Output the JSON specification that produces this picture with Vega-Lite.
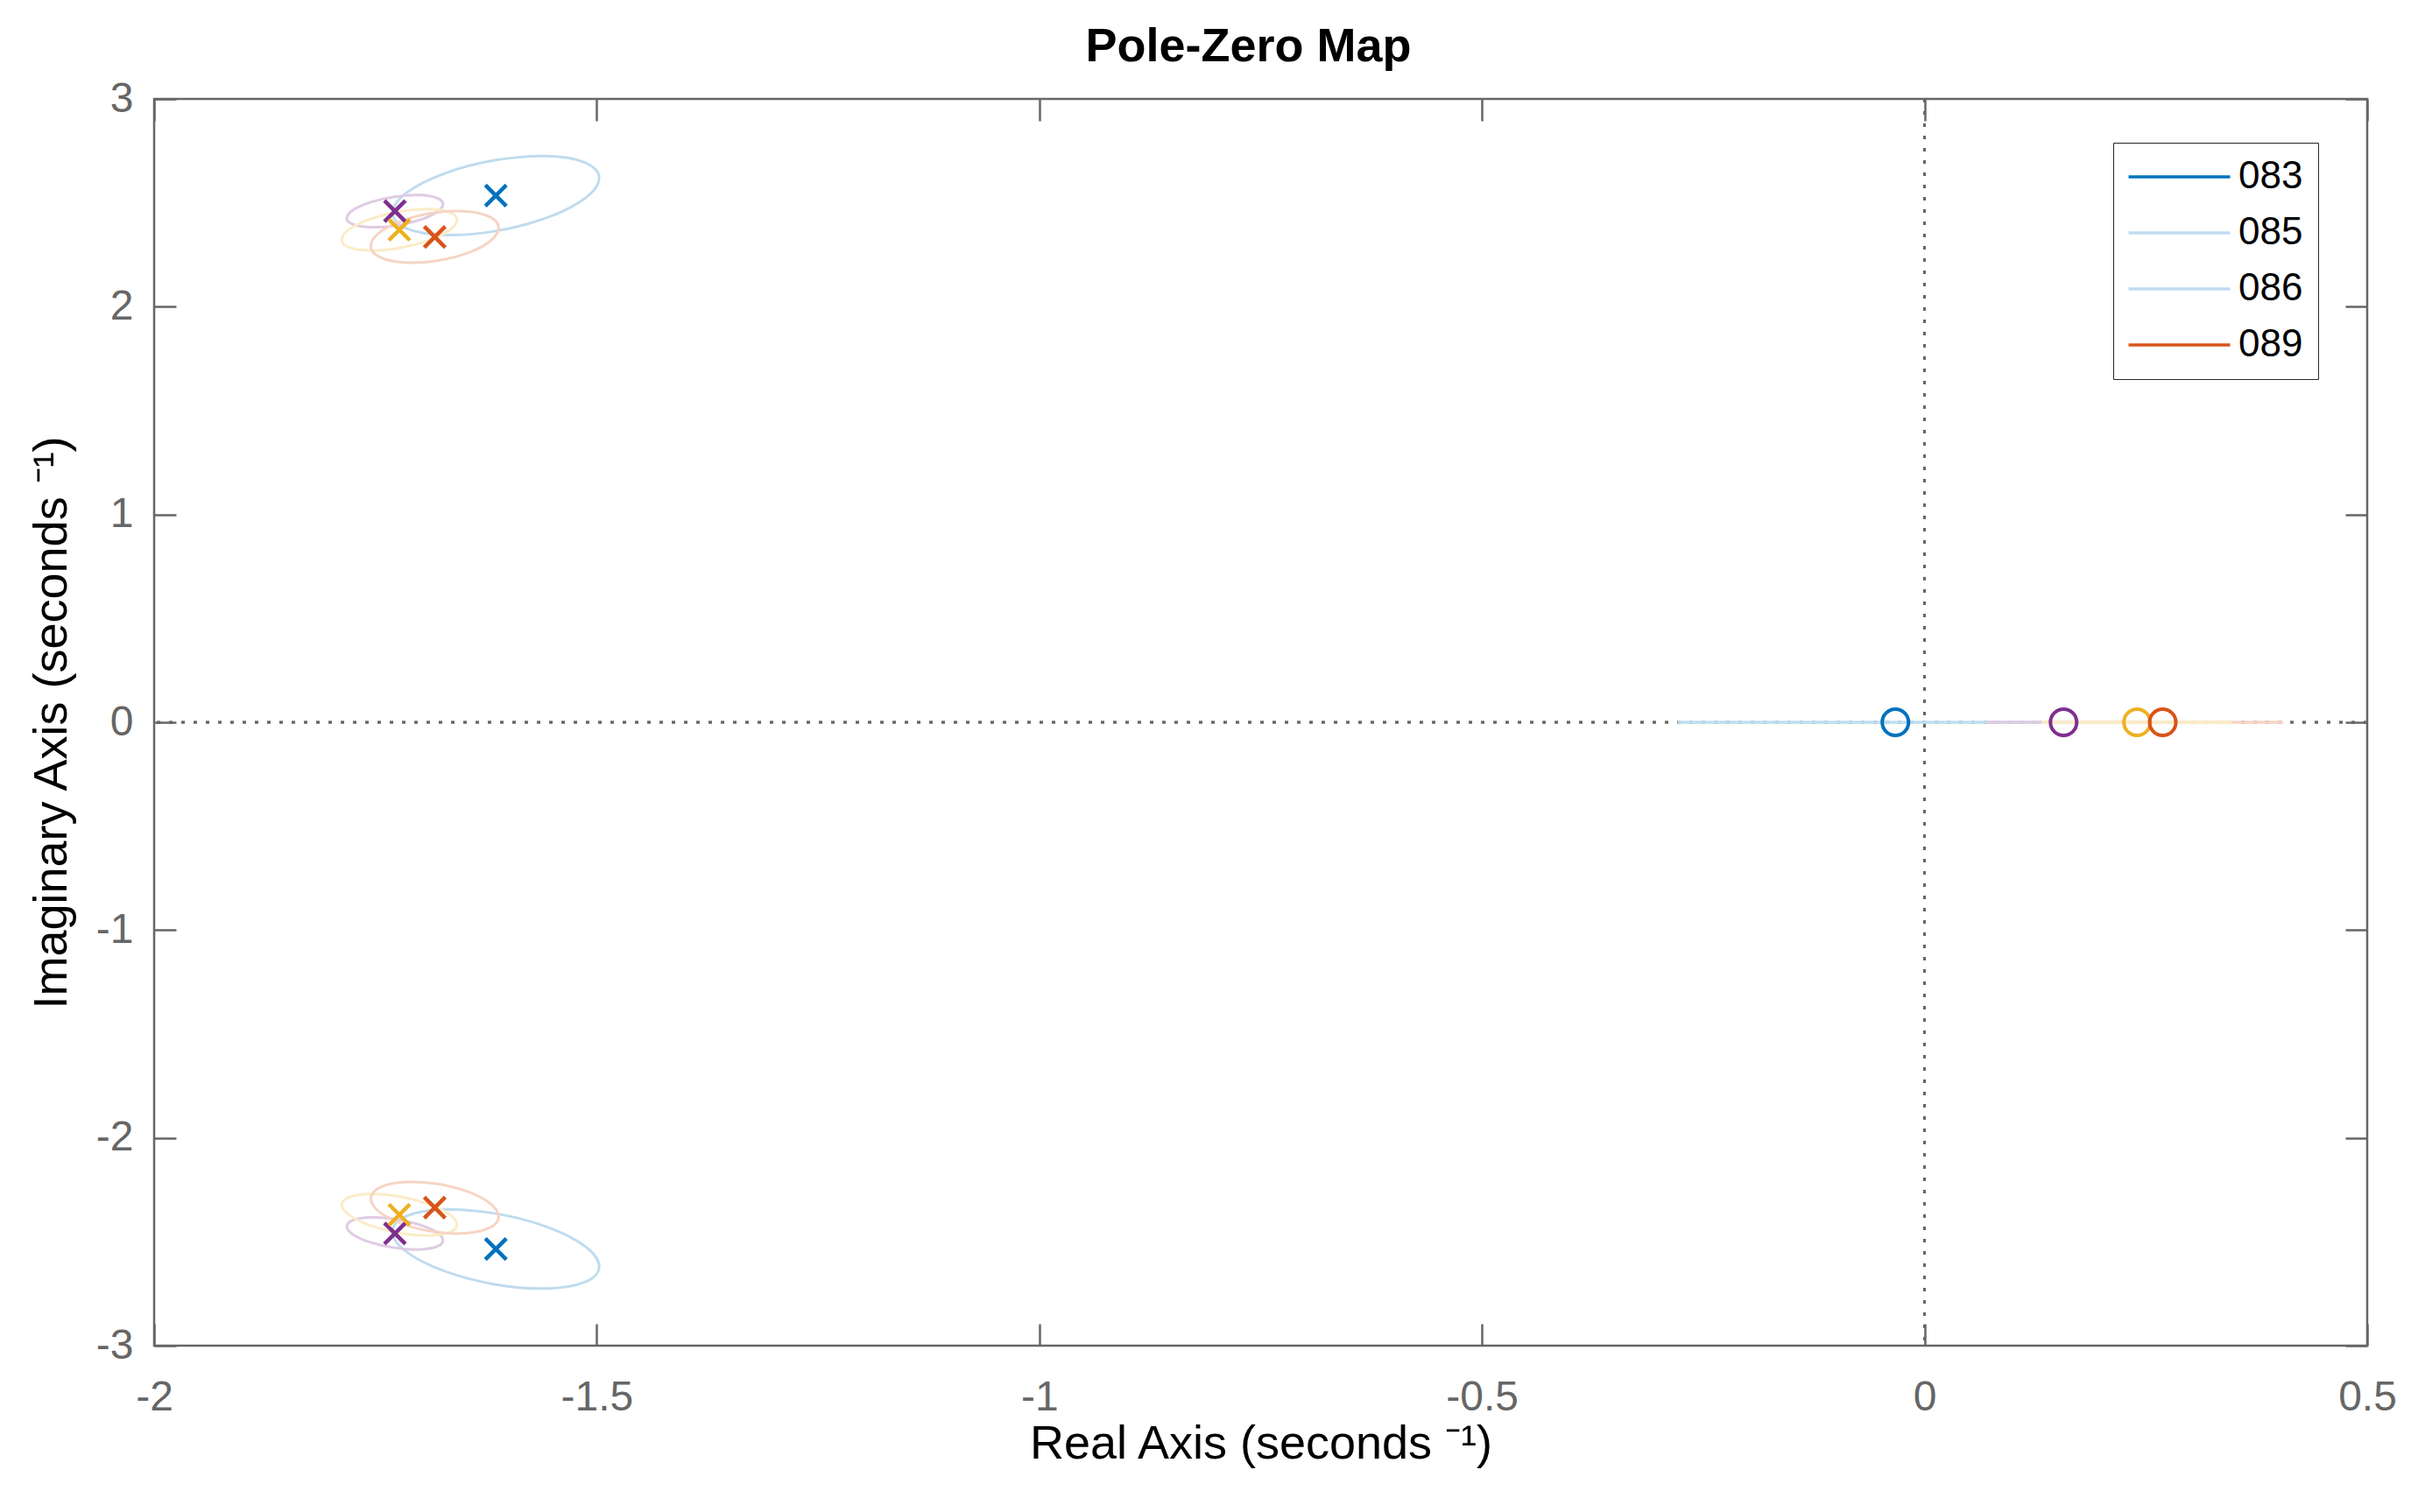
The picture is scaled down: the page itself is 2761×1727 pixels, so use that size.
{
  "$schema": "https://vega.github.io/schema/vega-lite/v6.json",
  "width": 2527,
  "height": 1424,
  "autosize": {"type": "none"},
  "padding": {"left": 176, "top": 113, "right": 58, "bottom": 190},
  "background": "white",
  "title": {"text": "Pole-Zero Map", "fontSize": 54, "fontWeight": "bold", "font": "Liberation Sans", "color": "#000000", "anchor": "middle", "frame": "group", "baseline": "alphabetic", "offset": -35, "dx": -14},
  "config": {
    "view": {"stroke": "#666666", "strokeWidth": 2.5},
    "font": "Liberation Sans",
    "axis": {"labelFont": "Liberation Sans", "titleFont": "Liberation Sans", "labelFontSize": 48, "labelColor": "#666666", "tickColor": "#666666", "tickWidth": 2.5, "tickSize": -25, "domain": false, "grid": false, "labelFlush": false, "labelOverlap": false, "titleFontSize": 54, "titleFontWeight": "normal", "titleColor": "#000000"},
    "legend": {"labelFont": "Liberation Sans"}
  },
  "datasets": {
    "zeros": [
      {"m": "083", "re": -0.033},
      {"m": "085", "re": 0.157},
      {"m": "086", "re": 0.240},
      {"m": "089", "re": 0.269}
    ],
    "poles": [
      {"m": "083", "re": -1.614, "im": 2.535},
      {"m": "083", "re": -1.614, "im": -2.535},
      {"m": "085", "re": -1.728, "im": 2.460},
      {"m": "085", "re": -1.728, "im": -2.460},
      {"m": "086", "re": -1.723, "im": 2.370},
      {"m": "086", "re": -1.723, "im": -2.370},
      {"m": "089", "re": -1.683, "im": 2.336},
      {"m": "089", "re": -1.683, "im": -2.336}
    ],
    "intervals": [
      {"m": "083", "lo": -0.279, "hi": 0.213},
      {"m": "085", "lo": 0.070, "hi": 0.244},
      {"m": "089", "lo": 0.135, "hi": 0.405},
      {"m": "086", "lo": 0.132, "hi": 0.348}
    ],
    "ellipses": [
      {"m": "083", "p": "u", "k": 0, "re": -1.4973, "im": 2.6193},
      {"m": "083", "p": "u", "k": 1, "re": -1.5129, "im": 2.6934},
      {"m": "083", "p": "u", "k": 2, "re": -1.5556, "im": 2.7250},
      {"m": "083", "p": "u", "k": 3, "re": -1.614, "im": 2.7057},
      {"m": "083", "p": "u", "k": 4, "re": -1.6724, "im": 2.6406},
      {"m": "083", "p": "u", "k": 5, "re": -1.7151, "im": 2.5474},
      {"m": "083", "p": "u", "k": 6, "re": -1.7307, "im": 2.4507},
      {"m": "083", "p": "u", "k": 7, "re": -1.7151, "im": 2.3766},
      {"m": "083", "p": "u", "k": 8, "re": -1.6724, "im": 2.345},
      {"m": "083", "p": "u", "k": 9, "re": -1.614, "im": 2.3643},
      {"m": "083", "p": "u", "k": 10, "re": -1.5556, "im": 2.4294},
      {"m": "083", "p": "u", "k": 11, "re": -1.5129, "im": 2.5226},
      {"m": "083", "p": "l", "k": 0, "re": -1.4973, "im": -2.6193},
      {"m": "083", "p": "l", "k": 1, "re": -1.5129, "im": -2.6934},
      {"m": "083", "p": "l", "k": 2, "re": -1.5556, "im": -2.7250},
      {"m": "083", "p": "l", "k": 3, "re": -1.614, "im": -2.7057},
      {"m": "083", "p": "l", "k": 4, "re": -1.6724, "im": -2.6406},
      {"m": "083", "p": "l", "k": 5, "re": -1.7151, "im": -2.5474},
      {"m": "083", "p": "l", "k": 6, "re": -1.7307, "im": -2.4507},
      {"m": "083", "p": "l", "k": 7, "re": -1.7151, "im": -2.3766},
      {"m": "083", "p": "l", "k": 8, "re": -1.6724, "im": -2.345},
      {"m": "083", "p": "l", "k": 9, "re": -1.614, "im": -2.3643},
      {"m": "083", "p": "l", "k": 10, "re": -1.5556, "im": -2.4294},
      {"m": "083", "p": "l", "k": 11, "re": -1.5129, "im": -2.5226},
      {"m": "085", "p": "u", "k": 0, "re": -1.6736, "im": 2.4937},
      {"m": "085", "p": "u", "k": 1, "re": -1.6809, "im": 2.524},
      {"m": "085", "p": "u", "k": 2, "re": -1.7008, "im": 2.5371},
      {"m": "085", "p": "u", "k": 3, "re": -1.728, "im": 2.5295},
      {"m": "085", "p": "u", "k": 4, "re": -1.7552, "im": 2.5033},
      {"m": "085", "p": "u", "k": 5, "re": -1.7751, "im": 2.4656},
      {"m": "085", "p": "u", "k": 6, "re": -1.7824, "im": 2.4263},
      {"m": "085", "p": "u", "k": 7, "re": -1.7751, "im": 2.396},
      {"m": "085", "p": "u", "k": 8, "re": -1.7552, "im": 2.3829},
      {"m": "085", "p": "u", "k": 9, "re": -1.728, "im": 2.3905},
      {"m": "085", "p": "u", "k": 10, "re": -1.7008, "im": 2.4167},
      {"m": "085", "p": "u", "k": 11, "re": -1.6809, "im": 2.4544},
      {"m": "085", "p": "l", "k": 0, "re": -1.6736, "im": -2.4937},
      {"m": "085", "p": "l", "k": 1, "re": -1.6809, "im": -2.524},
      {"m": "085", "p": "l", "k": 2, "re": -1.7008, "im": -2.5371},
      {"m": "085", "p": "l", "k": 3, "re": -1.728, "im": -2.5295},
      {"m": "085", "p": "l", "k": 4, "re": -1.7552, "im": -2.5033},
      {"m": "085", "p": "l", "k": 5, "re": -1.7751, "im": -2.4656},
      {"m": "085", "p": "l", "k": 6, "re": -1.7824, "im": -2.4263},
      {"m": "085", "p": "l", "k": 7, "re": -1.7751, "im": -2.396},
      {"m": "085", "p": "l", "k": 8, "re": -1.7552, "im": -2.3829},
      {"m": "085", "p": "l", "k": 9, "re": -1.728, "im": -2.3905},
      {"m": "085", "p": "l", "k": 10, "re": -1.7008, "im": -2.4167},
      {"m": "085", "p": "l", "k": 11, "re": -1.6809, "im": -2.4544},
      {"m": "086", "p": "u", "k": 0, "re": -1.6579, "im": 2.4176},
      {"m": "086", "p": "u", "k": 1, "re": -1.6666, "im": 2.4551},
      {"m": "086", "p": "u", "k": 2, "re": -1.6904, "im": 2.4698},
      {"m": "086", "p": "u", "k": 3, "re": -1.723, "im": 2.4577},
      {"m": "086", "p": "u", "k": 4, "re": -1.7556, "im": 2.4222},
      {"m": "086", "p": "u", "k": 5, "re": -1.7794, "im": 2.3727},
      {"m": "086", "p": "u", "k": 6, "re": -1.7881, "im": 2.3224},
      {"m": "086", "p": "u", "k": 7, "re": -1.7794, "im": 2.2849},
      {"m": "086", "p": "u", "k": 8, "re": -1.7556, "im": 2.2702},
      {"m": "086", "p": "u", "k": 9, "re": -1.723, "im": 2.2823},
      {"m": "086", "p": "u", "k": 10, "re": -1.6904, "im": 2.3178},
      {"m": "086", "p": "u", "k": 11, "re": -1.6666, "im": 2.3673},
      {"m": "086", "p": "l", "k": 0, "re": -1.6579, "im": -2.4176},
      {"m": "086", "p": "l", "k": 1, "re": -1.6666, "im": -2.4551},
      {"m": "086", "p": "l", "k": 2, "re": -1.6904, "im": -2.4698},
      {"m": "086", "p": "l", "k": 3, "re": -1.723, "im": -2.4577},
      {"m": "086", "p": "l", "k": 4, "re": -1.7556, "im": -2.4222},
      {"m": "086", "p": "l", "k": 5, "re": -1.7794, "im": -2.3727},
      {"m": "086", "p": "l", "k": 6, "re": -1.7881, "im": -2.3224},
      {"m": "086", "p": "l", "k": 7, "re": -1.7794, "im": -2.2849},
      {"m": "086", "p": "l", "k": 8, "re": -1.7556, "im": -2.2702},
      {"m": "086", "p": "l", "k": 9, "re": -1.723, "im": -2.2823},
      {"m": "086", "p": "l", "k": 10, "re": -1.6904, "im": -2.3178},
      {"m": "086", "p": "l", "k": 11, "re": -1.6666, "im": -2.3673},
      {"m": "089", "p": "u", "k": 0, "re": -1.6108, "im": 2.3794},
      {"m": "089", "p": "u", "k": 1, "re": -1.6205, "im": 2.4318},
      {"m": "089", "p": "u", "k": 2, "re": -1.6469, "im": 2.4584},
      {"m": "089", "p": "u", "k": 3, "re": -1.683, "im": 2.4523},
      {"m": "089", "p": "u", "k": 4, "re": -1.7191, "im": 2.415},
      {"m": "089", "p": "u", "k": 5, "re": -1.7455, "im": 2.3566},
      {"m": "089", "p": "u", "k": 6, "re": -1.7552, "im": 2.2926},
      {"m": "089", "p": "u", "k": 7, "re": -1.7455, "im": 2.2402},
      {"m": "089", "p": "u", "k": 8, "re": -1.7191, "im": 2.2136},
      {"m": "089", "p": "u", "k": 9, "re": -1.683, "im": 2.2197},
      {"m": "089", "p": "u", "k": 10, "re": -1.6469, "im": 2.257},
      {"m": "089", "p": "u", "k": 11, "re": -1.6205, "im": 2.3154},
      {"m": "089", "p": "l", "k": 0, "re": -1.6108, "im": -2.3794},
      {"m": "089", "p": "l", "k": 1, "re": -1.6205, "im": -2.4318},
      {"m": "089", "p": "l", "k": 2, "re": -1.6469, "im": -2.4584},
      {"m": "089", "p": "l", "k": 3, "re": -1.683, "im": -2.4523},
      {"m": "089", "p": "l", "k": 4, "re": -1.7191, "im": -2.415},
      {"m": "089", "p": "l", "k": 5, "re": -1.7455, "im": -2.3566},
      {"m": "089", "p": "l", "k": 6, "re": -1.7552, "im": -2.2926},
      {"m": "089", "p": "l", "k": 7, "re": -1.7455, "im": -2.2402},
      {"m": "089", "p": "l", "k": 8, "re": -1.7191, "im": -2.2136},
      {"m": "089", "p": "l", "k": 9, "re": -1.683, "im": -2.2197},
      {"m": "089", "p": "l", "k": 10, "re": -1.6469, "im": -2.257},
      {"m": "089", "p": "l", "k": 11, "re": -1.6205, "im": -2.3154}
    ]
  },
  "layer": [
    {
      "data": {"name": "zeros"},
      "mark": {"type": "rule", "stroke": "#666666", "strokeWidth": 2.7, "strokeDash": [4, 10]},
      "encoding": {
        "x": {"datum": 0, "type": "quantitative", "axis": null}
      }
    },
    {
      "data": {"name": "zeros"},
      "mark": {"type": "rule", "stroke": "#666666", "strokeWidth": 2.7, "strokeDash": [4, 10]},
      "encoding": {
        "y": {"datum": 0, "type": "quantitative", "axis": null}
      }
    },
    {
      "data": {"name": "intervals"},
      "mark": {"type": "rule", "strokeWidth": 3.4},
      "encoding": {
        "x": {"field": "lo", "type": "quantitative", "axis": null},
        "x2": {"field": "hi"},
        "y": {"datum": 0, "type": "quantitative", "axis": null},
        "stroke": {"field": "m", "type": "nominal", "scale": {"range": ["#BFDCEF", "#DFCBE3", "#FBECC7", "#F6D4C5"]}, "legend": null},
        "fill": {"field": "m", "type": "nominal", "scale": {"range": ["#0072BD", "#BFDCEF", "#BFDCEF", "#D95319"]},
          "legend": {"title": null, "orient": "none", "legendX": 2237, "legendY": 50, "symbolType": "M-1,-0.115H7V0.115H-1Z", "symbolSize": 841, "symbolStrokeWidth": 0, "symbolStrokeColor": "transparent", "symbolOpacity": 1, "symbolOffset": -7, "labelFontSize": 44, "labelColor": "#000000", "labelOffset": 89, "padding": 17, "rowPadding": 20, "strokeColor": "#262626", "fillColor": "#FFFFFF",
            "encode": {
              "legend": {"strokeWidth": {"value": 2.7}}
            }
          }
        }
      }
    },
    {
      "data": {"name": "ellipses"},
      "mark": {"type": "line", "strokeWidth": 3, "interpolate": "cardinal-closed"},
      "encoding": {
        "x": {"field": "re", "type": "quantitative", "axis": {"orient": "top", "values": [-2, -1.5, -1, -0.5, 0, 0.5], "labels": false, "title": null}},
        "y": {"field": "im", "type": "quantitative", "axis": {"orient": "right", "values": [-3, -2, -1, 0, 1, 2, 3], "labels": false, "title": null}},
        "stroke": {"field": "m", "type": "nominal", "legend": null},
        "detail": {"field": "p", "type": "nominal"},
        "order": {"field": "k", "type": "quantitative"}
      }
    },
    {
      "data": {"name": "poles"},
      "mark": {"type": "point", "shape": "M-1,-1L1,1M-1,1L1,-1", "filled": false, "size": 576, "strokeWidth": 4.5, "opacity": 1},
      "encoding": {
        "x": {"field": "re", "type": "quantitative", "scale": {"domain": [-2, 0.5], "nice": false, "zero": false}, "axis": {"orient": "bottom", "values": [-2, -1.5, -1, -0.5, 0, 0.5], "labelPadding": 60, "labelExpr": "toString(datum.value)", "title": "Real Axis (seconds ⁻¹)", "titleY": 128, "titleBaseline": "alphabetic"}},
        "y": {"field": "im", "type": "quantitative", "scale": {"domain": [-3, 3], "nice": false, "zero": false}, "axis": {"orient": "left", "values": [-3, -2, -1, 0, 1, 2, 3], "labelPadding": 49, "labelExpr": "toString(datum.value)", "title": "Imaginary Axis (seconds ⁻¹)", "titleX": -101, "titleY": 712, "titleAngle": 270, "titleAlign": "center", "titleBaseline": "alphabetic"}},
        "color": {"field": "m", "type": "nominal", "scale": {"domain": ["083", "085", "086", "089"], "range": ["#0072BD", "#7E2F8E", "#EDB120", "#D95319"]}, "legend": null}
      }
    },
    {
      "data": {"name": "zeros"},
      "mark": {"type": "point", "shape": "circle", "filled": false, "size": 900, "strokeWidth": 4, "opacity": 1},
      "encoding": {
        "x": {"field": "re", "type": "quantitative", "axis": null},
        "y": {"datum": 0, "type": "quantitative", "axis": null},
        "color": {"field": "m", "type": "nominal", "legend": null}
      }
    }
  ],
  "resolve": {"axis": {"x": "independent", "y": "independent"}}
}
